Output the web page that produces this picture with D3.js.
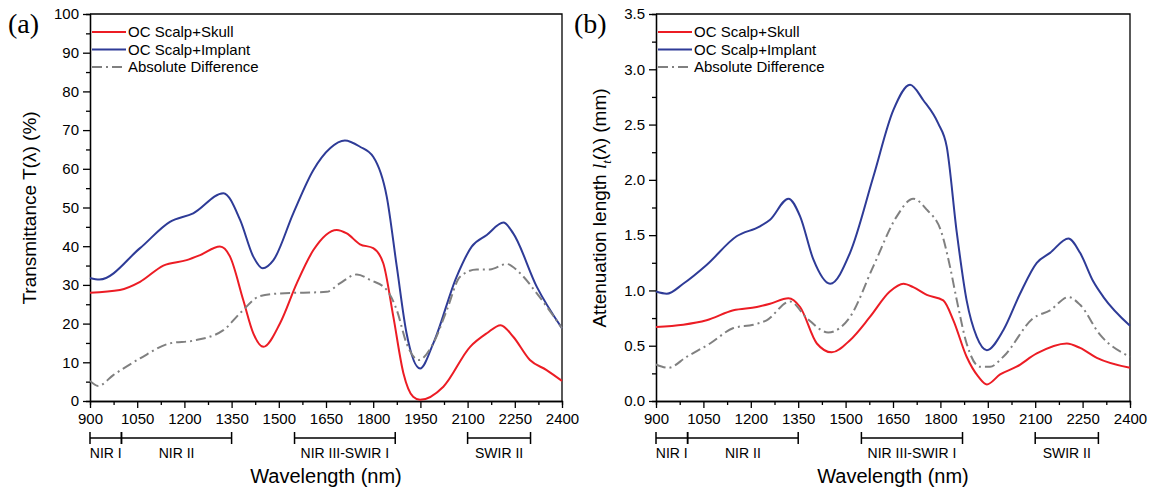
<!DOCTYPE html>
<html>
<head>
<meta charset="utf-8">
<script src="https://cdn.jsdelivr.net/npm/d3@7"></script>
<style>
  body { margin: 0; background: #fff; }
  svg { font-family: "Liberation Sans", Arial, sans-serif; }
  .axis path, .axis line { stroke: #000; stroke-width: 1.3; }
  .axis text { font-size: 15px; fill: #000; }
</style>
</head>
<body>
<div id="chart"></div>
<script>
// x ticks and spectral bands (shared by both panels)
var xTicks = [900, 1050, 1200, 1350, 1500, 1650, 1800, 1950, 2100, 2250, 2400]
var bandNames = ["NIR I", "NIR II", "NIR III-SWIR I", "SWIR II"]
var bandStart = [900, 1000, 1550, 2100]
var bandEnd = [1000, 1350, 1870, 2300]
var legendNames = ["OC Scalp+Skull", "OC Scalp+Implant", "Absolute Difference"]

// (a) transmittance, % : [wavelength, value]
var transSkull = [[900,28.0],[995,28.7],[1059,30.8],[1133,35.0],[1207,36.4],[1250,37.7],[1313,39.9],[1345,37.3],
  [1387,26.1],[1419,17.5],[1451,14.0],[1504,20.1],[1557,30.4],[1610,39.0],[1684,44.2],[1716,43.3],[1758,40.5],
  [1800,39.5],[1832,35.6],[1864,21.8],[1896,7.2],[1927,1.1],[1949,0.3],[2023,3.7],[2108,14.0],[2161,17.5],
  [2205,19.6],[2245,16.6],[2298,10.6],[2351,8.0],[2400,5.2]]
var transImplant = [[900,31.8],[930,31.4],[1059,39.5],[1154,46.3],[1228,48.5],[1324,53.7],[1377,46.8],[1419,37.3],
  [1449,34.3],[1483,36.4],[1546,48.5],[1610,59.7],[1663,65.3],[1710,67.3],[1758,65.7],[1800,63.1],[1843,52.8],
  [1875,34.7],[1906,17.5],[1949,8.4],[1991,14.9],[2065,32.1],[2113,39.9],[2161,42.9],[2214,46.1],[2245,43.3],
  [2320,29.5],[2400,18.8]]
var transDiff = [[900,5.2],[926,3.9],[974,6.7],[1059,11.0],[1154,14.9],[1228,15.6],[1324,18.3],[1377,22.7],
  [1440,27.1],[1504,27.8],[1652,28.2],[1694,30.4],[1748,32.7],[1790,31.3],[1843,28.7],[1875,23.5],[1906,14.9],
  [1944,10.6],[1991,14.9],[2034,23.5],[2076,32.1],[2129,34.0],[2171,34.0],[2224,35.4],[2267,33.0],[2320,27.8],
  [2400,18.8]]

// (b) attenuation length, mm
var attSkull = [[900,0.67],[986,0.69],[1060,0.73],[1145,0.82],[1219,0.85],[1261,0.88],[1319,0.93],[1356,0.85],
  [1409,0.52],[1456,0.44],[1514,0.55],[1577,0.76],[1640,0.99],[1683,1.06],[1714,1.03],[1757,0.96],[1809,0.91],
  [1841,0.73],[1883,0.40],[1920,0.22],[1947,0.15],[1989,0.24],[2041,0.31],[2105,0.43],[2200,0.52],[2242,0.48],
  [2295,0.39],[2400,0.30]]
var attImplant = [[900,0.99],[934,0.97],[986,1.06],[1060,1.23],[1155,1.49],[1229,1.58],[1261,1.64],[1319,1.83],
  [1356,1.67],[1398,1.28],[1451,1.06],[1514,1.34],[1588,2.03],[1651,2.63],[1704,2.86],[1746,2.72],[1793,2.51],
  [1820,2.30],[1852,1.52],[1883,0.91],[1915,0.58],[1947,0.46],[1999,0.64],[2052,0.97],[2105,1.25],[2147,1.34],
  [2205,1.47],[2242,1.34],[2284,1.08],[2316,0.94],[2400,0.68]]
var attDiff = [[900,0.33],[939,0.30],[997,0.40],[1071,0.52],[1145,0.66],[1208,0.69],[1250,0.73],[1324,0.90],
  [1377,0.75],[1445,0.62],[1514,0.76],[1588,1.22],[1662,1.67],[1714,1.83],[1757,1.73],[1804,1.52],[1830,1.22],
  [1852,0.91],[1883,0.52],[1925,0.31],[1957,0.31],[1999,0.40],[2094,0.75],[2147,0.82],[2205,0.94],[2242,0.87],
  [2305,0.60],[2400,0.40]]

var colors = ["#ec1c24", "#2e3b97", "#808080"]
var dashes = [null, null, "10,4,2,4"]

var svg = d3.select("#chart")
  .append("svg")
    .attr("width", 1155)
    .attr("height", 491)

function panel(opt) {
  var x = d3.scaleLinear().domain([900, 2400]).range([opt.left, opt.right])
  var y = d3.scaleLinear().domain([0, opt.ymax]).range([401, 14])
  var g = svg.append("g")

  // minor ticks first, then major axes
  g.append("g")
      .classed("axis", true)
      .attr("transform", "translate(0,401)")
      .call(d3.axisBottom(x).tickValues(d3.range(975, 2400, 150)).tickSize(4).tickFormat(""))
  g.append("g")
      .classed("axis", true)
      .attr("transform", "translate(" + opt.left + ",0)")
      .call(d3.axisLeft(y).tickValues(d3.range(opt.ystep / 2, opt.ymax, opt.ystep)).tickSize(4).tickFormat(""))

  g.append("g")
      .classed("axis", true)
      .attr("transform", "translate(0,401)")
      .call(d3.axisBottom(x).tickValues(xTicks).tickSize(7).tickPadding(5).tickSizeOuter(0)
        .tickFormat(d3.format("d")))
  g.append("g")
      .classed("axis", true)
      .attr("transform", "translate(" + opt.left + ",0)")
      .call(d3.axisLeft(y).tickValues(d3.range(0, opt.ymax + 1e-9, opt.ystep))
        .tickSize(7).tickPadding(4).tickSizeOuter(0).tickFormat(d3.format(opt.fmt)))

  // frame top/right
  g.append("path")
      .attr("d", "M" + opt.left + ",14H" + opt.right + "V401")
      .attr("fill", "none")
      .attr("stroke", "#000")
      .attr("stroke-width", 1.3)

  var line = d3.line()
      .x(function(d) { return x(d[0]) })
      .y(function(d) { return y(d[1]) })
      .curve(d3.curveMonotoneX)

  opt.series.forEach(function(s, i) {
    g.append("path")
        .datum(s)
        .attr("d", line)
        .attr("fill", "none")
        .attr("stroke", colors[i])
        .attr("stroke-width", 2)
        .attr("stroke-dasharray", dashes[i])
  })

  // legend
  legendNames.forEach(function(name, i) {
    var ly = 32 + i * 17.5
    g.append("line")
        .attr("x1", opt.left + 2).attr("x2", opt.left + 36)
        .attr("y1", ly).attr("y2", ly)
        .attr("stroke", colors[i])
        .attr("stroke-width", 2)
        .attr("stroke-dasharray", dashes[i])
    g.append("text")
        .attr("x", opt.left + 38)
        .attr("y", ly + 5)
        .attr("font-size", 15)
        .text(name)
  })

  // spectral band brackets
  bandNames.forEach(function(name, i) {
    var x0 = x(bandStart[i]), x1 = x(bandEnd[i])
    g.append("path")
        .attr("d", "M" + x0 + ",438H" + x1 + "M" + x0 + ",432V444M" + x1 + ",432V444")
        .attr("stroke", "#000")
        .attr("stroke-width", 1.5)
    g.append("text")
        .attr("x", (x0 + x1) / 2)
        .attr("y", 458)
        .attr("text-anchor", "middle")
        .attr("font-size", 14)
        .text(name)
  })

  g.append("text")
      .attr("x", (opt.left + opt.right) / 2)
      .attr("y", 483)
      .attr("text-anchor", "middle")
      .attr("font-size", 20)
      .text("Wavelength (nm)")

  g.append("text")
      .attr("x", opt.left - 82)
      .attr("y", 33)
      .attr("font-family", "Liberation Serif, Times New Roman, serif")
      .attr("font-size", 28)
      .text(opt.tag)

  var yt = g.append("text")
      .attr("transform", "translate(" + opt.titleX + ",208) rotate(-90)")
      .attr("text-anchor", "middle")
      .attr("font-size", 19)
  opt.title(yt)
}

panel({
  left: 90, right: 562, ymax: 100, ystep: 10, fmt: "d", tag: "(a)", titleX: 36,
  series: [transSkull, transImplant, transDiff],
  title: function(t) { t.text("Transmittance T(λ) (%)") }
})

panel({
  left: 656, right: 1130, ymax: 3.5, ystep: 0.5, fmt: ".1f", tag: "(b)", titleX: 606,
  series: [attSkull, attImplant, attDiff],
  title: function(t) {
    t.append("tspan").text("Attenuation length ")
    t.append("tspan")
        .attr("font-family", "Liberation Serif, Times New Roman, serif")
        .attr("font-style", "italic")
        .text("l")
    t.append("tspan")
        .attr("font-family", "Liberation Serif, Times New Roman, serif")
        .attr("font-style", "italic")
        .attr("font-size", 13)
        .attr("dy", 5)
        .text("t")
    t.append("tspan").attr("dy", -5).text("(λ) (mm)")
  }
})
</script>
</body>
</html>
